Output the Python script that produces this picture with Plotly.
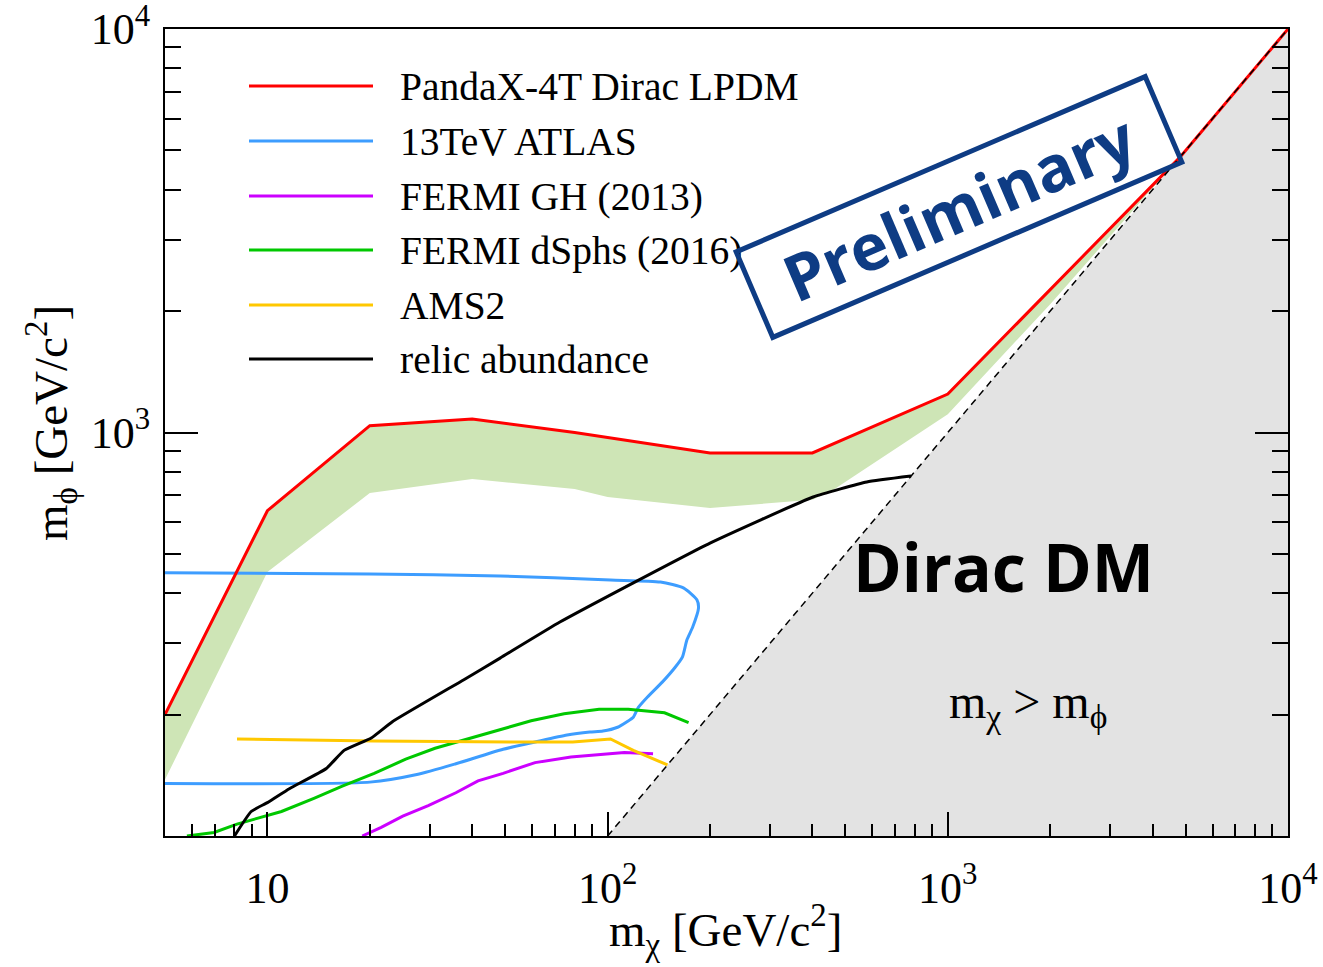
import numpy as np
import plotly.graph_objects as go

# ---- data (GeV/c^2) ----
pandax_x = [5, 10, 20, 40, 80, 200, 400, 1000, 4800, 10000]
pandax_y = [200, 640, 1040, 1080, 1000, 890, 890, 1245, 4800, 10000]

band_low_x = [5, 10, 20, 40, 80, 100, 200, 400, 460, 1000, 2000, 4800]
band_low_y = [138, 451, 708, 767, 724, 692, 650, 681, 720, 1110, 2080, 4800]

atlas_x = [5, 20, 48.3, 102, 143, 167, 183, 185, 178, 171, 166, 158, 145, 131,
           123, 119, 114, 107, 96.9, 88.7, 76, 61.2, 49.3, 35.8, 27.5, 20, 5]
atlas_y = [449, 446, 441, 431, 426, 412, 385, 367, 330, 306, 278, 262, 241, 221,
           208, 197, 192, 186, 182, 181, 178, 171, 164, 151, 142, 136, 135]

fermi_gh_x = [19, 21.6, 25, 29.7, 35.8, 41.6, 49.3, 61.2, 78, 98.9, 112, 136]
fermi_gh_y = [100, 105, 112, 119, 128, 137, 143, 152, 157, 160, 161, 160]

dsph_x = [5.8, 6.97, 8.14, 9.2, 11.0, 13.7, 16.6, 20.6, 25.5, 31.1, 38.6, 47,
          59.6, 74.5, 94.4, 115, 147, 173]
dsph_y = [100, 102, 107, 110, 115, 124, 133, 143, 155, 165, 174, 182,
          193, 201, 206, 206, 202, 191]

ams_x = [8.14, 20.6, 54.2, 79, 102, 119, 150]
ams_y = [174, 172, 171, 171, 174, 163, 150]

relic_x = [8.0, 8.96, 10, 11.6, 14.9, 16.8, 20.2, 23.3, 37.8, 48.3, 72.4, 119,
           200, 402, 578, 780]
relic_y = [100, 115, 121, 131, 147, 163, 175, 192, 244, 276, 339, 424,
           532, 692, 754, 780]

diag_x = [100, 10000]          # m_chi = m_phi
forbidden_x = [100, 10000, 10000]
forbidden_y = [100, 10000, 100]

x_tick_vals = [10, 100, 1000, 10000]
x_tick_text = ["10", "10<sup>2</sup>", "10<sup>3</sup>", "10<sup>4</sup>"]
y_tick_vals = [1000, 10000]
y_tick_text = ["10<sup>3</sup>", "10<sup>4</sup>"]

legend_items = [
    ("PandaX-4T Dirac LPDM", "#ff0000"),
    ("13TeV ATLAS", "#3d9dff"),
    ("FERMI GH (2013)", "#cc00ff"),
    ("FERMI dSphs (2016)", "#00c800"),
    ("AMS2", "#ffc800"),
    ("relic abundance", "#000000"),
]
colors = dict(legend_items)

# ---- page geometry ----
W, H = 1323, 967
L, R, T, B = 165, 35, 29, 131
PW, PH = W - L - R, H - T - B


def px(x):
    return (x - L) / PW


def py(y):
    return (H - B - y) / PH


SERIF = "Liberation Serif, Times New Roman, serif"
SANS = "Open Sans, Noto Sans, sans-serif"
LW = 3

fig = go.Figure()

# kinematically forbidden region
fig.add_trace(go.Scatter(x=forbidden_x, y=forbidden_y, fill="toself",
                         fillcolor="#e3e3e3", line=dict(width=0),
                         mode="lines", hoverinfo="skip"))

# green band under the PandaX limit
fig.add_trace(go.Scatter(x=pandax_x[:-1] + band_low_x[::-1],
                         y=pandax_y[:-1] + band_low_y[::-1],
                         fill="toself", fillcolor="#cee5b6",
                         line=dict(width=0), mode="lines", hoverinfo="skip"))

curves = [
    (atlas_x, atlas_y, "13TeV ATLAS", "spline", 0.6),
    (fermi_gh_x, fermi_gh_y, "FERMI GH (2013)", "linear", 0),
    (dsph_x, dsph_y, "FERMI dSphs (2016)", "linear", 0),
    (ams_x, ams_y, "AMS2", "linear", 0),
    (relic_x, relic_y, "relic abundance", "spline", 0.4),
    (pandax_x, pandax_y, "PandaX-4T Dirac LPDM", "linear", 0),
]
for xs, ys, name, shp, sm in curves:
    line = dict(color=colors[name], width=LW, shape=shp)
    if shp == "spline":
        line["smoothing"] = sm
    fig.add_trace(go.Scatter(x=xs, y=ys, mode="lines", name=name, line=line))

# m_chi = m_phi boundary, drawn over the limit curves
fig.add_trace(go.Scatter(x=diag_x, y=diag_x, mode="lines",
                         line=dict(color="black", width=1.5, dash="7px,5px")))


def minor_vals(d0, d1):
    return [m * 10 ** d for d in range(d0, d1) for m in range(2, 10)]


fig.update_xaxes(type="log", range=[np.log10(5), 4], automargin=False,
                 tickvals=x_tick_vals, ticktext=x_tick_text,
                 ticks="inside", ticklen=24, tickwidth=1.5, tickcolor="black",
                 minor=dict(tickvals=minor_vals(0, 4), ticks="inside",
                            ticklen=12, tickwidth=1.5, tickcolor="black",
                            showgrid=False),
                 showline=True, linecolor="black", linewidth=2, mirror=True,
                 showgrid=False, zeroline=False, ticklabeloverflow="allow",
                 tickfont=dict(family=SERIF, size=44, color="black"),
                 ticklabelstandoff=12)
fig.update_yaxes(type="log", range=[2, 4], automargin=False,
                 tickvals=y_tick_vals, ticktext=y_tick_text,
                 ticks="inside", ticklen=33, tickwidth=1.5, tickcolor="black",
                 minor=dict(tickvals=minor_vals(2, 4), ticks="inside",
                            ticklen=16, tickwidth=1.5, tickcolor="black",
                            showgrid=False),
                 showline=True, linecolor="black", linewidth=2, mirror="ticks",
                 showgrid=False, zeroline=False, ticklabeloverflow="allow",
                 tickfont=dict(family=SERIF, size=44, color="black"),
                 ticklabelstandoff=4)

annotations = []
shapes = []

# legend
row_y = [86, 141, 196, 250, 305, 359]
for (label, col), yy in zip(legend_items, row_y):
    shapes.append(dict(type="line", xref="paper", yref="paper",
                       x0=px(249), x1=px(373), y0=py(yy), y1=py(yy),
                       line=dict(color=col, width=LW)))
    annotations.append(dict(text=label, xref="paper", yref="paper",
                            x=px(398), y=py(yy + 1), xanchor="left",
                            yanchor="middle", showarrow=False,
                            font=dict(family=SERIF, size=39.5, color="black")))

# axis titles
annotations.append(dict(text="m<sub>χ</sub> [GeV/c<sup>2</sup>]",
                        xref="paper", yref="paper", x=px(725), y=py(930),
                        xanchor="center", yanchor="middle", showarrow=False,
                        font=dict(family=SERIF, size=47, color="black")))
annotations.append(dict(text="m<sub>ϕ</sub> [GeV/c<sup>2</sup>]",
                        xref="paper", yref="paper", x=px(51), y=py(423),
                        xanchor="center", yanchor="middle", showarrow=False,
                        textangle=-90,
                        font=dict(family=SERIF, size=47, color="black")))

# region labels
annotations.append(dict(text="<b>Dirac DM</b>", xref="paper", yref="paper",
                        x=px(1003), y=py(566), xanchor="center",
                        yanchor="middle", showarrow=False,
                        font=dict(family=SANS, size=66, color="black")))
annotations.append(dict(text="m<sub>χ</sub> > m<sub>ϕ</sub>",
                        xref="paper", yref="paper", x=px(1028), y=py(705),
                        xanchor="center", yanchor="middle", showarrow=False,
                        font=dict(family=SERIF, size=48, color="black")))

# preliminary stamp
annotations.append(dict(text="<b>Preliminary</b>", xref="paper", yref="paper",
                        x=px(959), y=py(207), xanchor="center",
                        yanchor="middle", showarrow=False, textangle=-23.2,
                        width=438, height=86, borderwidth=5, borderpad=1,
                        bordercolor="#0e3c84",
                        font=dict(family=SANS, size=64, color="#0e3c84")))

fig.update_layout(width=W, height=H, autosize=False,
                  margin=dict(l=L, r=R, t=T, b=B, autoexpand=False),
                  paper_bgcolor="white", plot_bgcolor="white",
                  showlegend=False, annotations=annotations, shapes=shapes)

fig.write_html("out.html")
